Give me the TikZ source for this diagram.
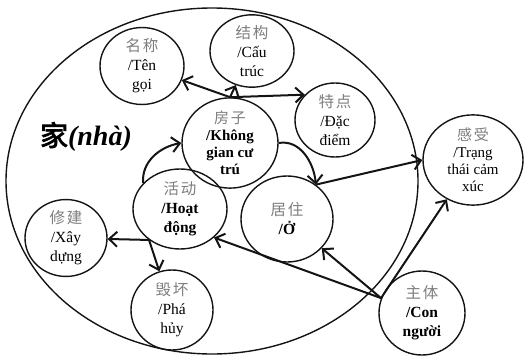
\documentclass[tikz,border=0pt]{standalone}
\usepackage{xcolor}
\usepackage{fontspec}
\usepackage{tikz}
\usetikzlibrary{shapes.geometric, arrows.meta}
\setmainfont{Liberation Serif}
\newfontfamily\zhfont[AutoFakeBold=3, LetterSpace=12]{Noto Sans CJK SC}
\definecolor{mydark}{RGB}{20,20,20}
\definecolor{zhgray}{RGB}{125,125,125}
\newcommand{\zhtxt}[1]{{\zhfont\color{zhgray}#1}}
\tikzset{
  concept/.style={ellipse, draw=mydark, line width=1.4pt, inner sep=0pt,
    align=center, font=\fontsize{15.5}{19}\selectfont},
  bigconcept/.style={concept, font=\fontsize{15}{17}\selectfont},
  arrow/.style={-{Straight Barb[length=8pt, width=15pt]}, line width=2pt, color=mydark},
  frame/.style={draw=mydark, line width=1.4pt}
}

\begin{document}
\begin{tikzpicture}[x=1pt, y=-1pt]
  \useasboundingbox (0,0) rectangle (529,358);

  % Outer ellipse
  \draw[frame] (212,181) ellipse [x radius=206pt, y radius=173pt];
  \node[font=\fontsize{28}{30}\selectfont\bfseries] (nha) at (86,137) {{\zhfont 家}\textit{(nhà)}};

  % Concepts
  \node[concept, minimum width=84pt, minimum height=72pt] (tengoi) at (142,66)
    {\zhtxt{名称}\\/Tên\\gọi};
  \node[concept, minimum width=84pt, minimum height=72pt] (cautruc) at (252,51)
    {\zhtxt{结构}\\/Cấu\\trúc};
  \node[concept, minimum width=80pt, minimum height=74pt] (dacdiem) at (335,120)
    {\zhtxt{特点}\\/Đặc\\điểm};
  \node[bigconcept, minimum width=96pt, minimum height=76pt] (khonggian) at (230,143)
    {\zhtxt{房子}\\\textbf{/Không}\\\textbf{gian cư}\\\textbf{trú}};
  \node[concept, minimum width=94pt, minimum height=80pt] (hoatdong) at (180,209)
    {\zhtxt{活动}\\\textbf{/Hoạt}\\\textbf{động}};
  \node[concept, minimum width=92pt, minimum height=86pt] (o) at (287,219)
    {\zhtxt{居住}\\\textbf{/Ở}};
  \node[concept, minimum width=82pt, minimum height=70pt] (xaydung) at (66,238)
    {\zhtxt{修建}\\/Xây\\dựng};
  \node[concept, minimum width=82pt, minimum height=80pt] (phahuy) at (172,310)
    {\zhtxt{毁坏}\\/Phá\\hủy};
  \node[bigconcept, minimum width=100pt, minimum height=84pt] (camxuc) at (473,160)
    {\zhtxt{感受}\\/Trạng\\thái cảm\\xúc};
  \node[concept, minimum width=86pt, minimum height=84pt] (connguoi) at (422,313)
    {\zhtxt{主体}\\\textbf{/Con}\\\textbf{người}};

  % Arrows
  \coordinate (kgtop) at (khonggian.north);
  \draw[arrow] (kgtop) -- (tengoi);
  \draw[arrow] (kgtop) -- (cautruc);
  \draw[arrow] (kgtop) -- (dacdiem.140);
  \draw[arrow] (khonggian.east) to[out=10, in=95] (o.50);
  \draw[arrow] (o.50) -- (camxuc.west);
  \draw[arrow] (hoatdong.145) to[out=95, in=190] (khonggian.west);
  \coordinate (hdleft) at (hoatdong.225);
  \draw[arrow] (hdleft) -- (xaydung);
  \draw[arrow] (hdleft) -- (phahuy);
  \coordinate (cnleft) at (connguoi.160);
  \draw[arrow] (cnleft) -- (hoatdong.-40);
  \draw[arrow] (cnleft) -- (o);
  \draw[arrow] (cnleft) -- (camxuc);
\end{tikzpicture}
\end{document}
